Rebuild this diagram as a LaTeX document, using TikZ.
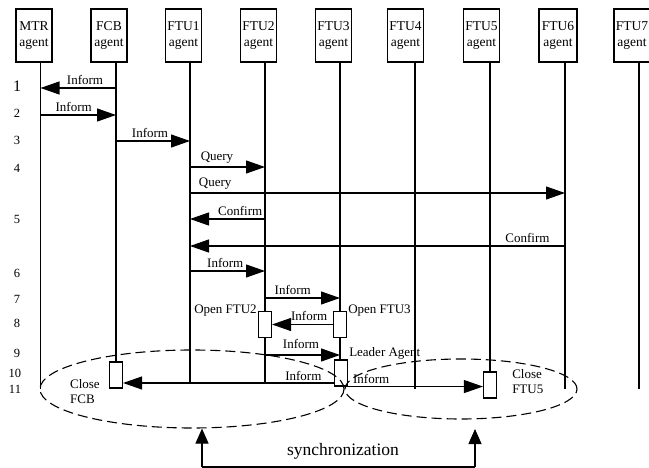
\documentclass[tikz,border=0pt]{standalone}
\usepackage{fontspec}
\setmainfont{Liberation Serif}
\usepackage{tikz}
\usetikzlibrary{calc}
\usetikzlibrary{shapes.geometric,arrows.meta}
\tikzstyle{agent} = [rectangle, draw, line width=1.1pt, minimum width=36pt, minimum height=53pt, inner sep=1pt, align=center, font=\fontsize{13.5}{16}\selectfont]
\tikzstyle{life} = [draw, line width=1.1pt]
\tikzstyle{msg} = [draw, line width=1.1pt, -{Triangle[length=19pt,width=13pt]}]
\tikzstyle{act} = [rectangle, draw, fill=white, line width=1.1pt, minimum width=13pt, minimum height=26pt, inner sep=0pt]
\tikzstyle{lbl} = [font=\fontsize{13}{15}\selectfont, inner sep=1pt]
\tikzstyle{num} = [font=\fontsize{12.5}{14}\selectfont, inner sep=0pt]
\tikzstyle{syncell} = [ellipse, draw, line width=1.1pt, dash pattern=on 10pt off 5pt, inner sep=0pt]
\tikzstyle{syncline} = [draw, line width=1.1pt, -{Triangle[length=15pt,width=13pt]}]

\begin{document}
\begin{tikzpicture}[x=1pt, y=-1pt]
    \useasboundingbox (0,0) rectangle (649,468);
    % agents
    \node [agent] (mtr) at (34,35.5) {MTR\\agent};
    \node [agent] (fcb) at (109,35.5) {FCB\\agent};
    \node [agent] (ftu1) at (183.5,35.5) {FTU1\\agent};
    \node [agent] (ftu2) at (258.5,35.5) {FTU2\\agent};
    \node [agent] (ftu3) at (333.5,35.5) {FTU3\\agent};
    \node [agent] (ftu4) at (405.5,35.5) {FTU4\\agent};
    \node [agent] (ftu5) at (481.5,35.5) {FTU5\\agent};
    \node [agent, minimum width=38pt] (ftu6) at (558,35.5) {FTU6\\agent};
    \node [agent] (ftu7) at (632,35.5) {FTU7\\agent};
    \coordinate (mtrL) at (40.5,62);
    \coordinate (fcbL) at (116,62);
    \coordinate (ftu1L) at (190,62);
    \coordinate (ftu2L) at (265,62);
    \coordinate (ftu3L) at (340,62);
    \coordinate (ftu4L) at (415,62);
    \coordinate (ftu5L) at (490,62);
    \coordinate (ftu6L) at (565,62);
    \coordinate (ftu7L) at (639,62);
    % rows
    \coordinate (r1) at (0,88);
    \coordinate (r2) at (0,115);
    \coordinate (r3) at (0,141);
    \coordinate (r4) at (0,167);
    \coordinate (r4b) at (0,193);
    \coordinate (r5) at (0,219);
    \coordinate (r5b) at (0,246);
    \coordinate (r6) at (0,271);
    \coordinate (r7) at (0,298);
    \coordinate (r9) at (0,355);
    \coordinate (r10) at (0,383);
    \coordinate (lend) at (0,389);
    % lifelines
    \path [life] (mtrL) -- (mtrL |- lend);
    \path [life] (fcbL) -- (fcbL |- lend);
    \path [life] (ftu1L) -- (ftu1L |- r10);
    \path [life] (ftu2L) -- (ftu2L |- r10);
    \path [life] (ftu3L) -- (ftu3L |- r10);
    \path [life] (ftu4L) -- (ftu4L |- lend);
    \path [life] (ftu5L) -- (ftu5L |- lend);
    \path [life] (ftu6L) -- (ftu6L |- lend);
    \path [life] (ftu7L) -- (ftu7L |- lend);
    % activation boxes
    \node [act] (open2) at (265,324.5) {};
    \node [act] (open3) at (340,324.5) {};
    \node [act] (leader) at (341,373) {};
    \node [act] (closefcb) at (116,375) {};
    \node [act] (closeftu5) at (490,385) {};
    \node [lbl, anchor=east] at (open2.north west) {Open FTU2};
    \node [lbl, anchor=west] at (open3.north east) {Open FTU3};
    \node [lbl, anchor=south west] at ([yshift=-1pt]leader.north east) {Leader Agent};
    \node [lbl, anchor=north east, align=left] at ([xshift=-8pt,yshift=-3pt]closefcb.west) {Close\\FCB};
    \node [lbl, anchor=west, align=left] at ([xshift=14pt,yshift=3pt]closeftu5.east) {Close\\FTU5};
    % messages
    \path [msg] (fcbL |- r1) -- node [lbl, above=2pt, pos=0.41] {Inform} (mtrL |- r1);
    \path [msg] (mtrL |- r2) -- node [lbl, above=2pt, pos=0.44] {Inform} (fcbL |- r2);
    \path [msg] (fcbL |- r3) -- node [lbl, above=2pt, pos=0.46] {Inform} (ftu1L |- r3);
    \path [msg] (ftu1L |- r4) -- node [lbl, above=2pt, pos=0.36] {Query} (ftu2L |- r4);
    \path [msg] (ftu1L |- r4b) -- node [lbl, above=2pt, pos=0.067] {Query} (ftu6L |- r4b);
    \path [msg] (ftu2L |- r5) -- node [lbl, above=2pt, pos=0.33] {Confirm} (ftu1L |- r5);
    \path [msg] (ftu6L |- r5b) -- node [lbl, above=2pt, pos=0.1] {Confirm} (ftu1L |- r5b);
    \path [msg] (ftu1L |- r6) -- node [lbl, above=2pt, pos=0.47] {Inform} (ftu2L |- r6);
    \path [msg] (ftu2L |- r7) -- node [lbl, above=2pt, pos=0.37] {Inform} (ftu3L |- r7);
    \path [msg] (open3.west) -- node [lbl, above=2pt, pos=0.39] {Inform} (open2.east);
    \path [msg] (ftu2L |- r9) -- node [lbl, above=5pt, pos=0.48] {Inform} (ftu3L |- r9);
    \path [msg] (leader.west |- r10) -- node [lbl, above=1pt, pos=0.145] {Inform} (closefcb.east |- r10);
    \path [msg] (leader.south west) -- node [lbl, above=1pt, pos=0.25] {Inform} (closeftu5.west |- leader.south west);
    % numbers
    \node [num, font=\fontsize{16}{18}\selectfont] (n1) at (17,86) {1};
    \node [num] (n2) at (17,113) {2};
    \node [num] (n3) at (17,140) {3};
    \node [num] (n4) at (17,168) {4};
    \node [num] (n5) at (17,219) {5};
    \node [num] (n6) at (17,273) {6};
    \node [num] (n7) at (17,299) {7};
    \node [num] (n8) at (17,323) {8};
    \node [num] (n9) at (17,353) {9};
    \node [num] (n10) at (15,373) {10};
    \node [num] (n11) at (15,389) {11};
    % synchronization
    \node [syncell, minimum width=304pt, minimum height=78pt] (syncA) at (192,389) {};
    \node [syncell, minimum width=232pt, minimum height=60pt] (syncB) at (461,389) {};
    \coordinate (sA) at (202,467);
    \coordinate (sB) at (475,467);
    \coordinate (sBtop) at (475,429);
    \path [life] (sA) -- (sB);
    \path [syncline] (sA) -- (sA |- syncA.south);
    \path [syncline] (sB) -- (sBtop);
    \node [font=\fontsize{17.5}{20}\selectfont, inner sep=0pt] (synctxt) at (343,451) {synchronization};
\end{tikzpicture}
\end{document}
